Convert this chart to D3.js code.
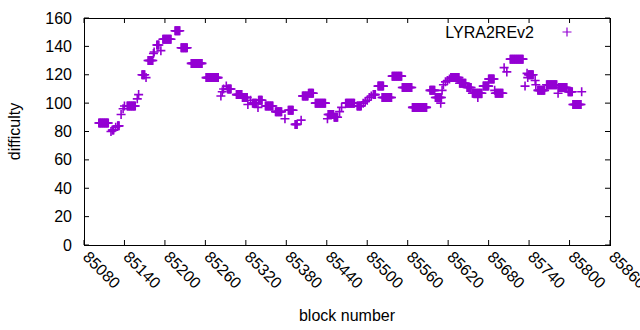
<!DOCTYPE html>
<html>
<head>
<meta charset="utf-8">
<script src="https://cdn.jsdelivr.net/npm/d3@7"></script>
<style>
  body { margin: 0; background: #fff; }
  text { font-family: "Liberation Sans", Arial, sans-serif; fill: #000; }
</style>
</head>
<body>
<div id="chart"></div>
<script>

// runs of LYRA2REv2 blocks sharing one difficulty (start block, end block, value)
const runStart = [85102, 85120, 85122, 85127, 85130, 85135, 85138, 85140, 85144, 85159,
                  85161, 85166, 85172, 85175, 85183, 85184, 85188, 85194, 85197, 85215,
                  85224, 85239, 85261, 85283, 85285, 85287, 85291, 85293, 85306, 85315,
                  85323, 85327, 85330, 85338, 85339, 85349, 85364, 85378, 85383, 85393,
                  85402, 85404, 85413, 85423, 85441, 85442, 85451, 85459, 85462, 85468,
                  85485, 85494, 85497, 85500, 85503, 85506, 85509, 85516, 85522, 85537,
                  85552, 85567, 85593, 85601, 85609, 85611, 85613, 85616, 85619, 85622,
                  85624, 85637, 85648, 85656, 85664, 85672, 85680, 85689, 85690, 85703,
                  85707, 85712, 85734, 85737, 85738, 85739, 85749, 85750, 85753, 85766,
                  85783, 85784, 85798, 85805, 85818];
const runEnd   = [85116, 85120, 85124, 85127, 85132, 85135, 85138, 85140, 85156, 85159,
                  85161, 85170, 85172, 85182, 85183, 85184, 85191, 85194, 85209, 85222,
                  85233, 85255, 85279, 85283, 85285, 85287, 85291, 85298, 85314, 85322,
                  85323, 85327, 85336, 85338, 85344, 85360, 85373, 85378, 85390, 85396,
                  85402, 85412, 85420, 85438, 85441, 85450, 85456, 85459, 85462, 85481,
                  85491, 85494, 85497, 85500, 85503, 85506, 85512, 85524, 85536, 85551,
                  85566, 85588, 85600, 85610, 85609, 85611, 85613, 85616, 85619, 85622,
                  85636, 85646, 85654, 85670, 85664, 85680, 85688, 85689, 85701, 85703,
                  85707, 85731, 85734, 85737, 85738, 85746, 85749, 85750, 85763, 85781,
                  85783, 85796, 85804, 85817, 85818];
const difficulty = [86, 80, 81, 83, 84, 92, 96, 98, 98, 103,
                    106, 120, 118, 130, 135, 136, 141, 137, 145, 151,
                    139, 128, 118, 105, 108, 110, 112, 110, 106, 104,
                    99, 102, 100, 97, 102, 98, 94, 89, 95, 85,
                    88, 105, 107, 100, 89, 92, 90, 94, 97, 100,
                    98, 100, 101, 102, 104, 105, 106, 112, 104, 119,
                    111, 97, 109, 104, 100, 109, 113, 115, 116, 117,
                    118, 114, 111, 107, 104, 112, 117, 109, 107, 125,
                    122, 131, 112, 121, 118, 120, 116, 113, 109, 113,
                    107, 111, 108, 99, 108];

const xTicks = [85080, 85140, 85200, 85260, 85320, 85380, 85440, 85500, 85560, 85620, 85680, 85740, 85800, 85860];
const yTicks = [0, 20, 40, 60, 80, 100, 120, 140, 160];

const seriesName = "LYRA2REv2";
const color = "#9400d3";

const width = 640, height = 330;
const margin = { top: 18, right: 30, bottom: 85, left: 84 };
const innerW = width - margin.left - margin.right;
const innerH = height - margin.top - margin.bottom;

// one point per block
let points = [];
for (let i = 0; i < runStart.length; i++) {
    for (let b = runStart[i]; b <= runEnd[i]; b++) {
        points.push({ block: b, value: difficulty[i] });
    }
}

const svg = d3.select("#chart")
    .append("svg")
    .attr("width", width)
    .attr("height", height);

const x = d3.scaleLinear().domain([85080, 85860]).range([margin.left, margin.left + innerW]);
const y = d3.scaleLinear().domain([0, 160]).range([margin.top + innerH, margin.top]);

const tickLen = 5;
const fontSize = "16px";

// y ticks, left and mirrored right
yTicks.forEach(t => {
    svg.append("line")
        .attr("x1", x.range()[0]).attr("x2", x.range()[0] + tickLen)
        .attr("y1", y(t)).attr("y2", y(t))
        .attr("stroke", "#000");
    svg.append("line")
        .attr("x1", x.range()[1]).attr("x2", x.range()[1] - tickLen)
        .attr("y1", y(t)).attr("y2", y(t))
        .attr("stroke", "#000");
    svg.append("text")
        .attr("x", x.range()[0] - 12)
        .attr("y", y(t))
        .attr("dy", "0.35em")
        .attr("text-anchor", "end")
        .style("font-size", fontSize)
        .text(t);
});

// x ticks, bottom and mirrored top
xTicks.forEach(t => {
    svg.append("line")
        .attr("x1", x(t)).attr("x2", x(t))
        .attr("y1", y.range()[0]).attr("y2", y.range()[0] - tickLen)
        .attr("stroke", "#000");
    svg.append("line")
        .attr("x1", x(t)).attr("x2", x(t))
        .attr("y1", y.range()[1]).attr("y2", y.range()[1] + tickLen)
        .attr("stroke", "#000");
    svg.append("text")
        .attr("transform", "translate(" + (x(t) - 2) + "," + (y.range()[0] + 13) + ") rotate(45)")
        .attr("text-anchor", "start")
        .style("font-size", fontSize)
        .text(t);
});

// frame
svg.append("rect")
    .attr("x", margin.left + 0.5)
    .attr("y", margin.top + 0.5)
    .attr("width", innerW)
    .attr("height", innerH)
    .attr("fill", "none")
    .attr("stroke", "#000");

const plus = "M-4.5,0H4.5M0,-4.5V4.5";

svg.append("g")
    .selectAll("path")
    .data(points)
    .enter()
    .append("path")
    .attr("transform", d => "translate(" + x(d.block) + "," + y(d.value) + ")")
    .attr("d", plus)
    .attr("stroke", color)
    .attr("stroke-width", 1.6)
    .attr("fill", "none");

// legend
svg.append("text")
    .attr("x", 534)
    .attr("y", 32)
    .attr("dy", "0.35em")
    .attr("text-anchor", "end")
    .style("font-size", fontSize)
    .text(seriesName);
svg.append("path")
    .attr("transform", "translate(567,32)")
    .attr("d", plus)
    .attr("stroke", color)
    .attr("stroke-width", 1.2);

// axis titles
svg.append("text")
    .attr("transform", "translate(20," + (margin.top + innerH / 2) + ") rotate(-90)")
    .attr("text-anchor", "middle")
    .style("font-size", fontSize)
    .text("difficulty");
svg.append("text")
    .attr("x", margin.left + innerW / 2)
    .attr("y", 321)
    .attr("text-anchor", "middle")
    .style("font-size", fontSize)
    .text("block number");

</script>
</body>
</html>
